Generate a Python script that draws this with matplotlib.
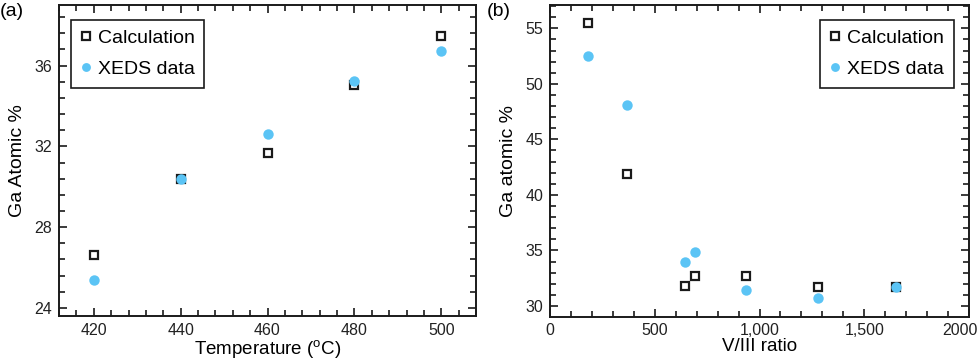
import matplotlib
matplotlib.use("Agg")
import matplotlib.pyplot as plt
from matplotlib.ticker import MultipleLocator
from matplotlib.transforms import ScaledTranslation

plt.rcParams['font.family'] = ['Liberation Sans', 'DejaVu Sans']
plt.rcParams['mathtext.fontset'] = 'custom'
plt.rcParams['mathtext.rm'] = 'Liberation Sans'

# Panel (a)
temp = [420, 440, 460, 480, 500]
calc_a = [26.63, 30.39, 31.66, 35.06, 37.47]
xeds_a = [25.36, 30.40, 32.60, 35.24, 36.73]

# Panel (b)
ratio = [180, 367, 644, 690, 935, 1281, 1651]
calc_b = [55.48, 41.89, 31.84, 32.71, 32.71, 31.69, 31.69]
xeds_b = [52.51, 48.13, 33.94, 34.87, 31.42, 30.76, 31.69]
b_ticks = [0, 500, 1000, 1500, 2000]
b_ticklabels = ["0", "500", "1,000", "1,500", "2000"]

blue = '#5BC4F5'
edge = '#1a1a1a'

fig = plt.figure(figsize=(9.8, 3.6), dpi=100)
ax1 = fig.add_axes([59/980, 1-316/360, 417/980, 311/360])
ax2 = fig.add_axes([550/980, 1-316.5/360, 419/980, 311.5/360])

def style(ax):
    for s in ax.spines.values():
        s.set_linewidth(1.4)
        s.set_color(edge)
    ax.tick_params(which='both', direction='in', top=True, right=True,
                   color=edge, labelsize=11.5, labelcolor='#222222')
    ax.tick_params(which='major', length=6, width=1.2, pad=5)
    ax.tick_params(which='minor', length=4, width=1.2)

sq = dict(marker='s', linestyle='none', markersize=6.3, markerfacecolor='white',
          markeredgecolor=edge, markeredgewidth=1.6, label='Calculation')
ci = dict(marker='o', linestyle='none', markersize=7.5, color=blue,
          markeredgewidth=0, label='XEDS data')

leg_kw = dict(fontsize=14, fancybox=False, framealpha=1, edgecolor=edge,
              handletextpad=0.35, borderpad=0.5, handlelength=0.55,
              labelspacing=0.7, borderaxespad=0, markerscale=0.85)

ax1.plot(temp, calc_a, **sq)
ax1.plot(temp, xeds_a, **ci)
ax1.set_xlim(412, 508)
ax1.set_ylim(23.6, 39.0)
ax1.xaxis.set_major_locator(MultipleLocator(20))
ax1.xaxis.set_minor_locator(MultipleLocator(4))
ax1.yaxis.set_major_locator(MultipleLocator(4))
ax1.yaxis.set_minor_locator(MultipleLocator(0.8))
ax1.set_xlabel('Temperature ($^\\mathregular{o}$C)', fontsize=13.5, labelpad=0)
ax1.set_ylabel('Ga Atomic %', fontsize=14, labelpad=6)
style(ax1)
leg1 = ax1.legend(loc='upper left', bbox_to_anchor=(0.028, 0.953), **leg_kw)
leg1.get_frame().set_linewidth(1.2)

ax2.plot(ratio, calc_b, **sq)
ax2.plot(ratio, xeds_b, **ci)
ax2.set_xlim(0, 2000)
ax2.set_ylim(29.05, 57.1)
ax2.set_xticks(b_ticks)
ax2.set_xticklabels(b_ticklabels)
ax2.xaxis.set_minor_locator(MultipleLocator(100))
ax2.yaxis.set_major_locator(MultipleLocator(5))
ax2.yaxis.set_minor_locator(MultipleLocator(1))
ax2.set_xlabel('V/III ratio', fontsize=13.5, labelpad=0)
ax2.set_ylabel('Ga atomic %', fontsize=14, labelpad=6)
style(ax2)
last = ax2.get_xticklabels()[-1]
last.set_transform(last.get_transform() + ScaledTranslation(-9/100, 0, fig.dpi_scale_trans))
leg2 = ax2.legend(loc='upper right', bbox_to_anchor=(0.964, 0.953), **leg_kw)
leg2.get_frame().set_linewidth(1.2)

fig.text(0/980, 1-12/360, '(a)', fontsize=14, va='center', ha='left')
fig.text(487/980, 1-12/360, '(b)', fontsize=14, va='center', ha='left')

fig.savefig('out.png', dpi=100)
